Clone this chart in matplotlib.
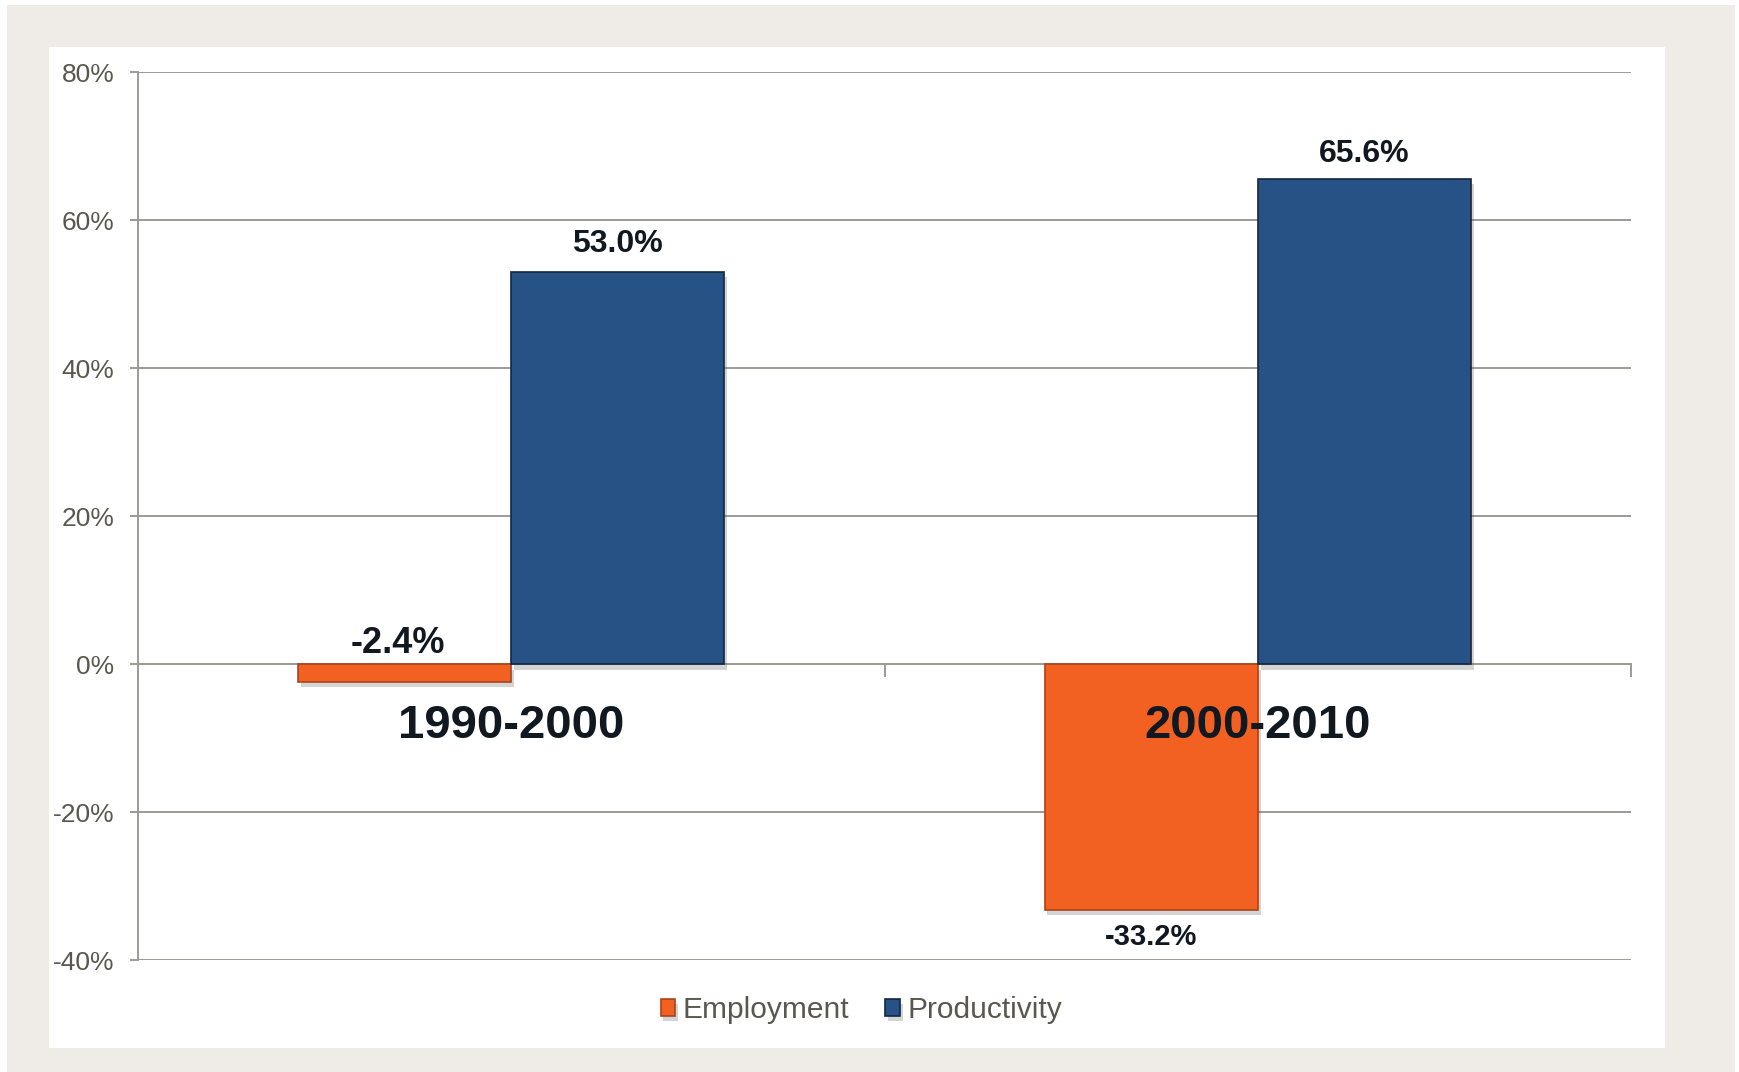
import matplotlib.pyplot as plt
import matplotlib.patches as patches
import matplotlib.patheffects as pe
import numpy as np

# data
categories = ['1990-2000', '2000-2010']
series_names = ['Employment', 'Productivity']
employment = [-2.4, -33.2]
productivity = [53.0, 65.6]
y_ticks = [-40, -20, 0, 20, 40, 60, 80]

orange = '#F26122'
blue = '#265286'
grid_col = '#9C9C96'
tick_col = '#58584F'
label_col = '#111820'

plt.rcParams['font.family'] = ['Liberation Sans', 'DejaVu Sans']

W, H = 1739, 1072
fig = plt.figure(figsize=(W / 100, H / 100), dpi=100)
fig.patch.set_facecolor('white')

# beige frame and white inner panel (pixel coords -> figure fraction)
def px_rect(x0, y0, x1, y1, color):
    fig.patches.append(patches.Rectangle(
        (x0 / W, 1 - y1 / H), (x1 - x0) / W, (y1 - y0) / H,
        transform=fig.transFigure, facecolor=color, edgecolor='none', zorder=-10))

px_rect(7, 5, 1735, 1072, '#EFECE7')
px_rect(49, 47, 1665, 1048, 'white')

ax = fig.add_axes([138 / W, 1 - 960 / H, (1631 - 138) / W, (960 - 72) / H])
ax.set_facecolor('none')

x = np.arange(len(categories))
w = 213 / 746
shadow = [pe.SimplePatchShadow(offset=(2, -4), shadow_rgbFace='#555555', alpha=0.25), pe.Normal()]

b1 = ax.bar(x - w / 2, employment, w, color=orange, edgecolor='#A8441A',
            linewidth=1.2, zorder=3, label=series_names[0])
b2 = ax.bar(x + w / 2, productivity, w, color=blue, edgecolor='#14263F',
            linewidth=1.2, zorder=3, label=series_names[1])
for b in list(b1) + list(b2):
    b.set_path_effects(shadow)

# value labels
prod_offsets = [20, 18]
for i, v in enumerate(productivity):
    ax.annotate(f'{v:.1f}%', (x[i] + w / 2, v), xytext=(0, prod_offsets[i]),
                textcoords='offset points', ha='center', va='center',
                fontsize=23, fontweight='bold', color=label_col, zorder=5)
ax.annotate(f'{employment[0]:.1f}%', (x[0] - w / 2, 0), xytext=(-5, 15),
            textcoords='offset points', ha='center', va='center',
            fontsize=26, fontweight='bold', color=label_col, zorder=5)
ax.annotate(f'{employment[1]:.1f}%', (x[1] - w / 2, employment[1]), xytext=(0, -20),
            textcoords='offset points', ha='center', va='center',
            fontsize=21, fontweight='bold', color=label_col, zorder=5)

ax.set_xlim(-0.5, len(categories) - 0.5)
ax.set_ylim(-40, 80)
ax.set_yticks(y_ticks)
ax.set_yticklabels([f'{t}%' for t in y_ticks])
ax.yaxis.grid(True, color=grid_col, linewidth=1.4, zorder=1)
ax.set_axisbelow(True)

for s in ['top', 'right']:
    ax.spines[s].set_visible(False)
ax.spines['left'].set_color(grid_col)
ax.spines['left'].set_linewidth(1.4)
ax.spines['bottom'].set_position(('data', 0))
ax.spines['bottom'].set_color(grid_col)
ax.spines['bottom'].set_linewidth(1.4)
ax.spines['bottom'].set_zorder(2)

ax.tick_params(axis='y', length=6, width=1.4, color=grid_col, pad=11,
               labelsize=19, labelcolor=tick_col)
ax.set_xticks(x)
ax.set_xticklabels(categories)
ax.set_xticks(np.arange(len(categories) + 1) - 0.5, minor=True)
ax.tick_params(axis='x', which='major', length=0, pad=29, labelsize=34,
               labelcolor=label_col)
for t in ax.get_xticklabels():
    t.set_fontweight('bold')
ax.tick_params(axis='x', which='minor', length=9, width=1.4, color=grid_col,
               direction='out')
# category labels sit on top of the bars
ax.xaxis.set_zorder(5)

leg = ax.legend(loc='center', bbox_to_anchor=(0.4846, (1 - 1010 / H - (1 - 960 / H)) / ((960 - 72) / H)),
                ncol=2, frameon=False, fontsize=21.5, handlelength=0.5, handleheight=0.5,
                handletextpad=0.25, columnspacing=1.2, labelcolor=tick_col)

fig.savefig('out.png', dpi=100)
